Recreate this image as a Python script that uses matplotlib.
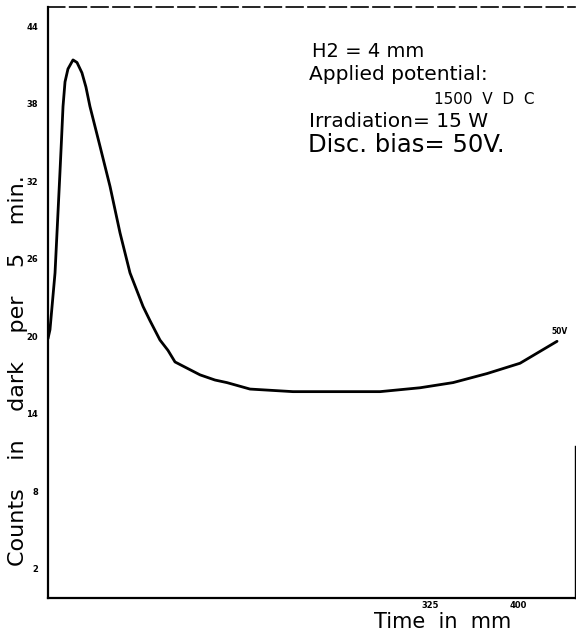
import numpy as np
import matplotlib
matplotlib.use("Agg")
import matplotlib.pyplot as plt

# data
time_mm = [0, 1.7, 6.0, 10.2, 11.5, 12.8, 14.5, 17.0, 21.3, 24.7, 28.9, 32.3, 35.7,
           44.3, 52.8, 61.3, 69.8, 80.9, 86.8, 95.3, 102.1, 108.1, 116.6, 129.4,
           142.1, 152.3, 171.9, 208.5, 251.1, 282.6, 316.6, 344.7, 373.6, 401.7, 433.2]
counts = [19.8, 20.5, 24.9, 32.7, 35.2, 37.8, 39.7, 40.7, 41.4, 41.2, 40.4, 39.3, 37.8,
          34.7, 31.6, 28.0, 24.9, 22.3, 21.2, 19.7, 18.9, 18.0, 17.6, 17.0,
          16.6, 16.4, 15.9, 15.7, 15.7, 15.7, 16.0, 16.4, 17.1, 17.9, 19.6]
y_ticks = [2, 8, 14, 20, 26, 32, 38, 44]
x_ticks = [325, 400]
notes = ["H2 = 4 mm", "Applied potential:", "1500  V  D  C", "Irradiation= 15 W", "Disc. bias= 50V."]

fig = plt.figure(figsize=(5.76, 6.35), dpi=100)
ax = fig.add_axes([0.0833, 0.058, 0.915, 0.931])

ax.plot(time_mm, counts, color="black", lw=2.0, solid_capstyle="round",
        solid_joinstyle="round")
ax.annotate("50V", (time_mm[-1], counts[-1]), xytext=(-4, 5), textcoords="offset points",
            fontsize=5.5, fontweight="bold")

ax.set_xlim(0, 448.5)
ax.set_ylim(-0.3, 45.5)
ax.set_yticks(y_ticks)
ax.set_yticklabels([str(v) for v in y_ticks], fontsize=6, fontweight="bold")
ax.set_xticks(x_ticks)
ax.set_xticklabels([str(v) for v in x_ticks], fontsize=6, fontweight="bold")
ax.tick_params(axis="y", length=0, pad=7)
ax.tick_params(axis="x", length=0, pad=2)

for s in ["left", "bottom"]:
    ax.spines[s].set_linewidth(1.6)
ax.spines["top"].set_linewidth(1.2)
ax.spines["top"].set_linestyle((0, (10, 3)))
ax.spines["right"].set_linewidth(1.0)
ax.spines["right"].set_bounds(-0.3, 11.5)

ax.set_ylabel("Counts    in    dark    per    5    min.", fontsize=16)
ax.yaxis.set_label_coords(-0.038, 0.385)
ax.set_xlabel("Time  in  mm", fontsize=15)
ax.xaxis.set_label_coords(0.748, -0.024)

ax.text(0.5, 0.925, notes[0], transform=ax.transAxes, fontsize=14, va="center")
ax.text(0.496, 0.886, notes[1], transform=ax.transAxes, fontsize=14.5, va="center")
ax.text(0.733, 0.843, notes[2], transform=ax.transAxes, fontsize=11, va="center")
ax.text(0.496, 0.806, notes[3], transform=ax.transAxes, fontsize=14.5, va="center")
ax.text(0.494, 0.767, notes[4], transform=ax.transAxes, fontsize=17.5, va="center")

fig.savefig("out.png", dpi=100)
